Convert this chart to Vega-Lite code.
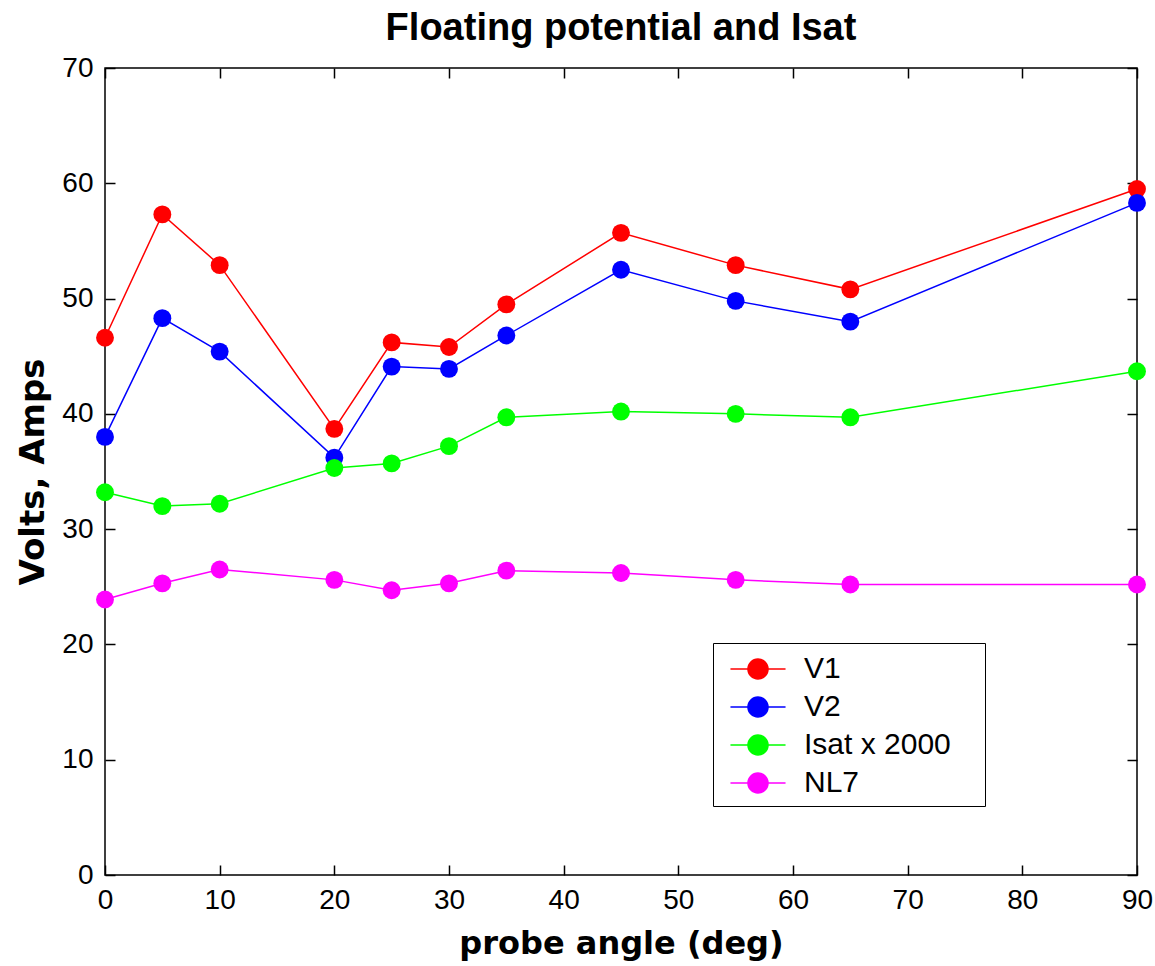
{
  "$schema": "https://vega.github.io/schema/vega-lite/v6.json",
  "width": 1032,
  "height": 807,
  "autosize": {"type": "none"},
  "padding": {"left": 105, "top": 68, "right": 18, "bottom": 91},
  "background": "white",
  "title": {
    "text": "Floating potential and Isat",
    "font": "Liberation Sans",
    "fontSize": 38,
    "fontWeight": "bold",
    "color": "black",
    "anchor": "middle",
    "frame": "group",
    "baseline": "alphabetic",
    "offset": 28,
    "dy": 52
  },
  "config": {
    "view": {"stroke": "black", "strokeWidth": 1.5},
    "axis": {
      "grid": false,
      "domain": false,
      "tickColor": "black",
      "tickWidth": 1.5,
      "tickSize": -10,
      "labelFlush": false,
      "labelFont": "Liberation Sans",
      "labelFontSize": 28,
      "labelColor": "black",
      "titleFont": "DejaVu Sans",
      "titleFontSize": 32,
      "titleFontWeight": "bold",
      "titleColor": "black"
    }
  },
  "data": {
    "values": [
      {"angle": 0, "series": "V1", "value": 46.6},
      {"angle": 5, "series": "V1", "value": 57.3},
      {"angle": 10, "series": "V1", "value": 52.9},
      {"angle": 20, "series": "V1", "value": 38.7},
      {"angle": 25, "series": "V1", "value": 46.2},
      {"angle": 30, "series": "V1", "value": 45.8},
      {"angle": 35, "series": "V1", "value": 49.5},
      {"angle": 45, "series": "V1", "value": 55.7},
      {"angle": 55, "series": "V1", "value": 52.9},
      {"angle": 65, "series": "V1", "value": 50.8},
      {"angle": 90, "series": "V1", "value": 59.5},
      {"angle": 0, "series": "V2", "value": 38.0},
      {"angle": 5, "series": "V2", "value": 48.3},
      {"angle": 10, "series": "V2", "value": 45.4},
      {"angle": 20, "series": "V2", "value": 36.2},
      {"angle": 25, "series": "V2", "value": 44.1},
      {"angle": 30, "series": "V2", "value": 43.9},
      {"angle": 35, "series": "V2", "value": 46.8},
      {"angle": 45, "series": "V2", "value": 52.5},
      {"angle": 55, "series": "V2", "value": 49.8},
      {"angle": 65, "series": "V2", "value": 48.0},
      {"angle": 90, "series": "V2", "value": 58.3},
      {"angle": 0, "series": "Isat x 2000", "value": 33.2},
      {"angle": 5, "series": "Isat x 2000", "value": 32.0},
      {"angle": 10, "series": "Isat x 2000", "value": 32.2},
      {"angle": 20, "series": "Isat x 2000", "value": 35.3},
      {"angle": 25, "series": "Isat x 2000", "value": 35.7},
      {"angle": 30, "series": "Isat x 2000", "value": 37.2},
      {"angle": 35, "series": "Isat x 2000", "value": 39.7},
      {"angle": 45, "series": "Isat x 2000", "value": 40.2},
      {"angle": 55, "series": "Isat x 2000", "value": 40.0},
      {"angle": 65, "series": "Isat x 2000", "value": 39.7},
      {"angle": 90, "series": "Isat x 2000", "value": 43.7},
      {"angle": 0, "series": "NL7", "value": 23.9},
      {"angle": 5, "series": "NL7", "value": 25.3},
      {"angle": 10, "series": "NL7", "value": 26.5},
      {"angle": 20, "series": "NL7", "value": 25.6},
      {"angle": 25, "series": "NL7", "value": 24.7},
      {"angle": 30, "series": "NL7", "value": 25.3},
      {"angle": 35, "series": "NL7", "value": 26.4},
      {"angle": 45, "series": "NL7", "value": 26.2},
      {"angle": 55, "series": "NL7", "value": 25.6},
      {"angle": 65, "series": "NL7", "value": 25.2},
      {"angle": 90, "series": "NL7", "value": 25.2}
    ]
  },
  "layer": [
    {
      "mark": {"type": "line", "strokeWidth": 1.5},
      "encoding": {
        "x": {
          "field": "angle", "type": "quantitative",
          "scale": {"domain": [0, 90], "nice": false},
          "axis": {"orient": "bottom", "values": [0,10,20,30,40,50,60,70,80,90], "title": "probe angle (deg)", "labelPadding": 21, "titlePadding": 14}
        },
        "y": {
          "field": "value", "type": "quantitative",
          "scale": {"domain": [0, 70], "nice": false},
          "axis": {"orient": "left", "values": [0,10,20,30,40,50,60,70], "title": "Volts, Amps", "titleFontSize": 34, "labelPadding": 22, "titlePadding": 11}
        },
        "color": {
          "field": "series", "type": "nominal",
          "scale": {"domain": ["V1", "V2", "Isat x 2000", "NL7"], "range": ["#ff0000", "#0000ff", "#00ff00", "#ff00ff"]},
          "legend": {
            "orient": "none",
            "legendX": 608,
            "legendY": 575,
            "title": "\u00a0",
            "titleOrient": "right",
            "titleFontSize": 30,
            "titlePadding": 26,
            "strokeColor": "black",
            "fillColor": "white",
            "padding": 8,
            "symbolType": "M-1.62,0H1.62M-0.59,0A0.59,0.59,0,1,1,0.59,0A0.59,0.59,0,1,1,-0.59,0Z",
            "symbolSize": 1156,
            "symbolStrokeWidth": 1.5,
            "symbolOffset": 19,
            "labelOffset": 28,
            "rowPadding": 5,
            "labelFont": "Liberation Sans",
            "labelFontSize": 30,
            "labelColor": "black",
            "encode": {"symbols": {"update": {"fill": {"scale": "color", "field": "value"}, "stroke": {"scale": "color", "field": "value"}, "opacity": {"value": 1}}}}
          }
        }
      }
    },
    {
      "mark": {"type": "point", "shape": "circle", "filled": true, "size": 320, "opacity": 1},
      "encoding": {
        "x": {
          "field": "angle", "type": "quantitative",
          "axis": {"orient": "top", "values": [0,10,20,30,40,50,60,70,80,90], "labels": false, "title": null}
        },
        "y": {
          "field": "value", "type": "quantitative",
          "axis": {"orient": "right", "values": [0,10,20,30,40,50,60,70], "labels": false, "title": null}
        },
        "color": {"field": "series", "type": "nominal"}
      }
    }
  ],
  "resolve": {"axis": {"x": "independent", "y": "independent"}}
}
